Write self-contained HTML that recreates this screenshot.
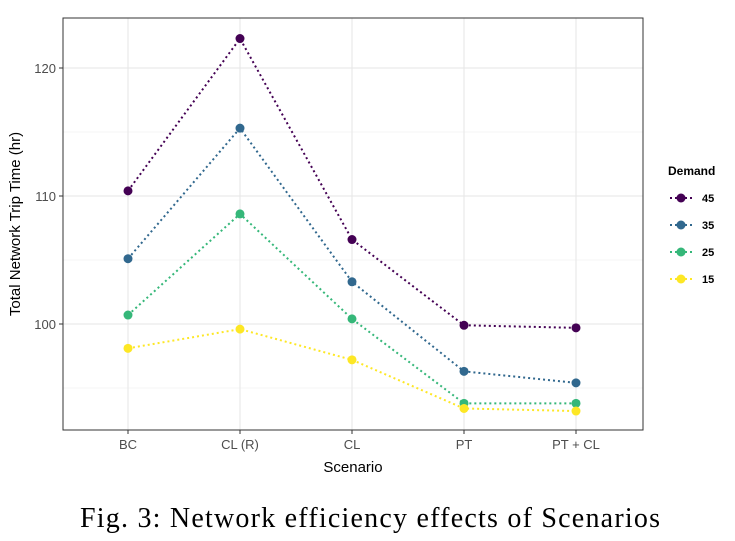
<!DOCTYPE html>
<html><head><meta charset="utf-8"><style>
body{margin:0;background:#fff;width:735px;height:536px;overflow:hidden;font-family:"Liberation Sans",sans-serif}
</style></head><body>
<svg width="735" height="536">
<g id="grid"></g>
<rect x="63" y="18" width="580" height="412" fill="none" stroke="#333" stroke-width="1"/>
<g id="series"></g>
<g id="axes"></g>
<text x="353" y="472" text-anchor="middle" font-size="15" fill="#000">Scenario</text>
<text transform="translate(20,224) rotate(-90)" text-anchor="middle" font-size="15" fill="#000">Total Network Trip Time (hr)</text>
<text x="668" y="175" font-size="12" font-weight="bold" fill="#000">Demand</text>
<g id="legend"></g>
<text x="80" y="527" font-size="28" textLength="580" lengthAdjust="spacing" font-family="Liberation Serif,serif" fill="#000">Fig. 3: Network efficiency effects of Scenarios</text>
</svg>
<script>
const categories=["BC","CL (R)","CL","PT","PT + CL"];
const seriesNames=["45","35","25","15"];
const s45=[110.4,122.3,106.6,99.9,99.7];
const s35=[105.1,115.3,103.3,96.3,95.4];
const s25=[100.7,108.6,100.4,93.8,93.8];
const s15=[98.1,99.6,97.2,93.4,93.2];
const yTicks=[100,110,120];
const yMinor=[95,105,115];
const colors=["#440154","#31688e","#35b779","#fde725"];
const data=[s45,s35,s25,s15];
const NS="http://www.w3.org/2000/svg";
const X=i=>128+i*112;
const Y=v=>324-(v-100)*12.8;
function mk(t,a,p){const e=document.createElementNS(NS,t);for(const k in a)e.setAttribute(k,a[k]);p.appendChild(e);return e;}
const grid=document.getElementById('grid'),axes=document.getElementById('axes'),ser=document.getElementById('series'),leg=document.getElementById('legend');
yMinor.forEach(v=>{const l=mk('line',{x1:63,x2:643,y1:Y(v),y2:Y(v),stroke:'#f0f0f0','stroke-width':0.8},grid);

});
yTicks.forEach(v=>{const l=mk('line',{x1:63,x2:643,y1:Y(v),y2:Y(v),stroke:'#e6e6e6','stroke-width':1},grid);


mk('line',{x1:59,x2:63,y1:Y(v),y2:Y(v),stroke:'#333'},axes);
const t=mk('text',{x:56,y:Y(v)+5,'text-anchor':'end','font-size':13,fill:'#4d4d4d'},axes);t.textContent=v;

});
categories.forEach((c,i)=>{const l=mk('line',{x1:X(i),x2:X(i),y1:18,y2:430,stroke:'#e6e6e6'},grid);


mk('line',{x1:X(i),x2:X(i),y1:430,y2:434,stroke:'#333'},axes);
const t=mk('text',{x:X(i),y:449,'text-anchor':'middle','font-size':13,fill:'#4d4d4d'},axes);t.textContent=c;

});
data.forEach((s,k)=>{const p=mk('polyline',{points:s.map((v,i)=>X(i)+','+Y(v)).join(' '),fill:'none',stroke:colors[k],'stroke-width':2,'stroke-dasharray':'2,3'},ser);


s.forEach((v,i)=>{const c=mk('circle',{cx:X(i),cy:Y(v),r:4.5,fill:colors[k]},ser);

});
const ly=198+k*27;
mk('line',{x1:670,x2:692,y1:ly,y2:ly,stroke:colors[k],'stroke-width':2,'stroke-dasharray':'2,3'},leg);
mk('circle',{cx:681,cy:ly,r:4.5,fill:colors[k]},leg);
const t=mk('text',{x:702,y:ly+4,'font-size':11,'font-weight':'bold',fill:'#000'},leg);t.textContent=seriesNames[k];

});
</script>
</body></html>
